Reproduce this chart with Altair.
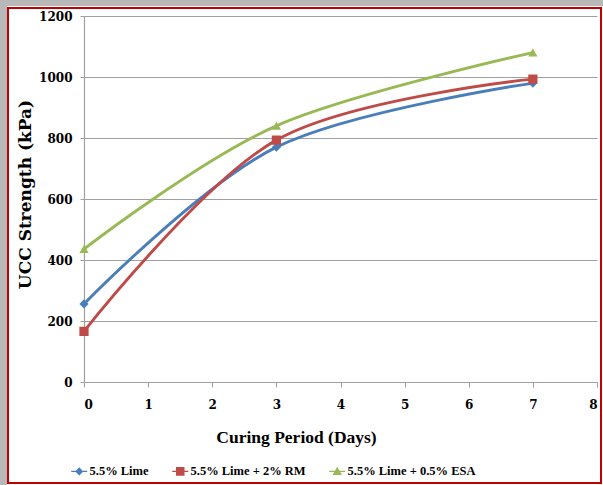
import altair as alt
import pandas as pd

days = [0, 3, 7]
lime = [256, 770, 980]
lime_rm = [166, 793, 993]
lime_esa = [436, 840, 1080]

series_names = ["5.5% Lime", "5.5% Lime + 2% RM", "5.5% Lime + 0.5% ESA"]
colors = ["#4A7EBB", "#BE4B48", "#98B954"]
shapes = ["diamond", "square", "triangle-up"]
legend_shapes = [
    "M-1.5,-0.14H1.5V0.14H-1.5Z M0,-0.75L0.75,0L0,0.75L-0.75,0Z",
    "M-1.5,-0.14H1.5V0.14H-1.5Z M-0.8,-0.8H0.8V0.8H-0.8Z",
    "M-1.5,-0.14H1.5V0.14H-1.5Z M0,-0.85L0.9,0.7L-0.9,0.7Z",
]

rows = []
for name, vals in zip(series_names, [lime, lime_rm, lime_esa]):
    for d, v in zip(days, vals):
        rows.append({"Series": name, "Days": d, "UCC": v})
df = pd.DataFrame(rows)

W, H = 513, 366
PL, PT = 84, 16

x_enc = alt.X("Days:Q", scale=alt.Scale(domain=[0, 8], nice=False),
              axis=alt.Axis(title="Curing Period (Days)", values=list(range(9)),
                            format="d", grid=False, tickSize=5, labelPadding=12,
                            titleX=212, titleY=60, titleBaseline="alphabetic",
                            titleFont="Liberation Serif", titleFontSize=17.5))
y_enc = alt.Y("UCC:Q", scale=alt.Scale(domain=[0, 1200], nice=False),
              axis=alt.Axis(title="UCC Strength (kPa)", values=list(range(0, 1201, 200)),
                            format="d", grid=True, tickSize=4, labelPadding=8,
                            titleX=-54, titleY=178, titleAngle=-90,
                            titleBaseline="alphabetic", titleAlign="center",
                            titleFont="DejaVu Serif", titleFontSize=17))

deco = pd.DataFrame({"k": [0]})
shadow_left = alt.Chart(deco).mark_rect(color="#b8b8b8").encode(
    x=alt.value(-PL), x2=alt.value(-PL + 7), y=alt.value(-PT), y2=alt.value(485 - PT))
shadow_top = alt.Chart(deco).mark_rect(color="#b8b8b8").encode(
    x=alt.value(-PL), x2=alt.value(603 - PL), y=alt.value(-PT), y2=alt.value(-PT + 6))
border = alt.Chart(deco).mark_rect(fill="transparent", stroke="#C00000", strokeWidth=2).encode(
    x=alt.value(8 - PL), x2=alt.value(601 - PL), y=alt.value(8 - PT), y2=alt.value(483 - PT))

base = alt.Chart(df)

line_layers = []
for i, (name, col) in enumerate(zip(series_names, colors)):
    enc = dict(x=x_enc, y=y_enc) if i == 0 else dict(x="Days:Q", y="UCC:Q")
    line_layers.append(
        base.transform_filter(alt.datum.Series == name)
        .mark_line(interpolate="cardinal", strokeWidth=2.9, color=col)
        .encode(**enc)
    )

point_layers = []
for name, col, shp in zip(series_names, colors, shapes):
    point_layers.append(
        base.transform_filter(alt.datum.Series == name)
        .mark_point(filled=True, opacity=1, strokeWidth=0, shape=shp, color=col, size=85)
        .encode(x="Days:Q", y="UCC:Q")
    )

leg = alt.Legend(title=None, orient="none", direction="horizontal", legendX=-11, legendY=449,
                 symbolOpacity=1, symbolSize=114, symbolStrokeWidth=0, labelOffset=4,
                 columnPadding=23, labelFont="Liberation Serif", labelFontSize=12.5,
                 labelFontWeight="bold", labelColor="black")
legend_layer = base.transform_filter("false").mark_point(filled=True, strokeWidth=0).encode(
    x="Days:Q", y="UCC:Q",
    color=alt.Color("Series:N", scale=alt.Scale(domain=series_names, range=colors), legend=leg),
    shape=alt.Shape("Series:N", scale=alt.Scale(domain=series_names, range=legend_shapes), legend=leg),
)

chart = alt.layer(shadow_left, shadow_top, border, *line_layers, *point_layers, legend_layer).properties(
    width=W, height=H,
    autosize=alt.AutoSizeParams(type="none"),
    padding={"left": PL, "top": PT, "right": 603 - PL - W, "bottom": 485 - PT - H},
).configure_view(stroke=None).configure_axis(
    domainColor="#a0a0a0", tickColor="#a0a0a0", gridColor="#a0a0a0",
    domainWidth=1.2, gridWidth=1.2,
    labelFont="DejaVu Serif", labelFontSize=12, labelFontWeight="bold", labelColor="black",
    titleFontWeight="bold", titleColor="black",
)

chart.save("out.html", embed_options={"renderer": "svg", "actions": False})
